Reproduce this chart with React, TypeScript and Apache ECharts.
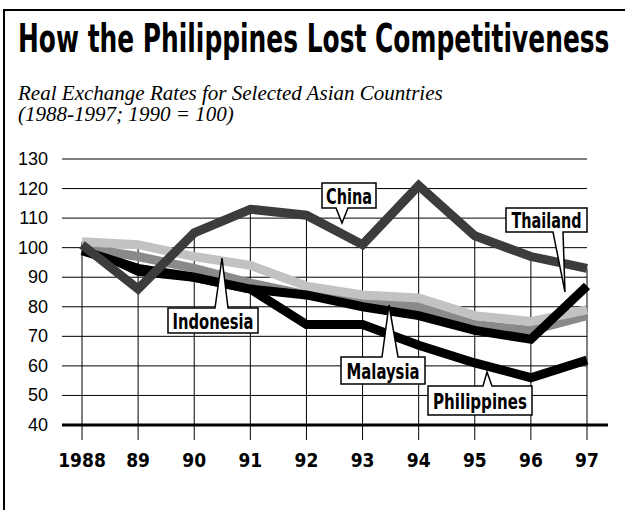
import React, { useEffect, useRef } from "react";
import * as echarts from "echarts";

const years = ["1988", "89", "90", "91", "92", "93", "94", "95", "96", "97"];
const yTicks = [40, 50, 60, 70, 80, 90, 100, 110, 120, 130];
const china = [101, 86, 105, 113, 111, 101, 121, 104, 97, 93];
const indonesia = [102, 101, 97, 94, 87, 84, 83, 77, 75, 79];
const malaysia = [100, 97, 93, 88, 84, 82, 80, 74, 72, 77];
const thailand = [99, 93, 90, 86, 84, 80, 77, 72, 69, 87];
const philippines = [101, 92, 90, 86, 74, 74, 67, 61, 56, 62];

const titleText = "How the Philippines Lost Competitiveness";
const subtitleLines = [
  "Real Exchange Rates for Selected Asian Countries",
  "(1988-1997; 1990 = 100)",
];

// callout annotations: box [x, y, w, h], target text width, tail base x pair, tip point
const callouts = [
  { text: "China", box: [322, 183, 54, 25], tw: 46, tail: [336, 348], tip: [342, 223] },
  { text: "Thailand", box: [506, 208, 81, 24], tw: 70, tail: [553, 563], tip: [565, 292] },
  { text: "Indonesia", box: [168, 308, 90, 25], tw: 81, tail: [215, 228], tip: [222, 258] },
  { text: "Malaysia", box: [341, 357, 84, 27], tw: 73, tail: [382, 398], tip: [389, 305] },
  { text: "Philippines", box: [428, 386, 104, 29], tw: 94, tail: [483, 492], tip: [487, 372] },
];

const NARROW = '"Liberation Sans Narrow", "DejaVu Sans Condensed", "Liberation Sans", sans-serif';
const SERIF = '"Liberation Serif", "DejaVu Serif", serif';

function measure(text: string, font: string): number {
  const c = document.createElement("canvas");
  const ctx = c.getContext("2d");
  if (!ctx) return 0;
  ctx.font = font;
  return ctx.measureText(text).width;
}

export default function App() {
  const ref = useRef<HTMLDivElement>(null);

  useEffect(() => {
    if (!ref.current) return;
    const chart = echarts.init(ref.current, null, { renderer: "svg" });

    const maxes = years.map((_, i) =>
      Math.max(china[i], indonesia[i], malaysia[i], thailand[i], philippines[i])
    );

    const titleFont = `bold 39px ${NARROW}`;
    const titleW = measure(titleText, titleFont) || 592;
    const titleScale = 592 / titleW;

    const subFont = `italic 22px ${SERIF}`;
    const subW = measure(subtitleLines[0], subFont) || 425;
    const subScale = 425 / subW;

    const lineSeries = (name: string, data: number[], color: string, z: number) => ({
      name,
      type: "line",
      data,
      symbol: "none",
      silent: true,
      clip: false,
      z,
      lineStyle: { color, width: 9, cap: "butt", join: "miter" },
    });

    const graphics: any[] = [
      {
        type: "polyline",
        shape: { points: [[4, 510], [4, 10], [625, 10]] },
        style: { stroke: "#000", lineWidth: 2, fill: "none" },
        z: 100,
      },
      {
        type: "text",
        x: 18,
        y: 39,
        scaleX: titleScale,
        style: {
          text: titleText,
          font: titleFont,
          fill: "#000",
          align: "left",
          verticalAlign: "middle",
        },
        z: 100,
      },
      ...subtitleLines.map((t, i) => ({
        type: "text",
        x: 18,
        y: 93 + i * 20.5,
        scaleX: subScale,
        style: {
          text: t,
          font: subFont,
          fill: "#000",
          align: "left",
          verticalAlign: "middle",
        },
        z: 100,
      })),
    ];

    const labelFont = `bold 22px ${NARROW}`;
    callouts.forEach((c) => {
      const [bx, by, bw, bh] = c.box;
      const [t1, t2] = c.tail;
      const [tx, ty] = c.tip;
      let pts: number[][];
      if (ty > by + bh) {
        pts = [[bx, by], [bx + bw, by], [bx + bw, by + bh], [t2, by + bh], [tx, ty], [t1, by + bh], [bx, by + bh]];
      } else {
        pts = [[bx, by], [t1, by], [tx, ty], [t2, by], [bx + bw, by], [bx + bw, by + bh], [bx, by + bh]];
      }
      graphics.push({
        type: "polygon",
        shape: { points: pts },
        style: { fill: "#fff", stroke: "#000", lineWidth: 1.5 },
        z: 200,
      });
      const w = measure(c.text, labelFont) || c.tw;
      graphics.push({
        type: "text",
        x: bx + bw / 2,
        y: by + bh / 2 + 1,
        scaleX: c.tw / w,
        style: {
          text: c.text,
          font: labelFont,
          fill: "#000",
          align: "center",
          verticalAlign: "middle",
        },
        z: 201,
      });
    });

    chart.setOption({
      animation: false,
      backgroundColor: "#fff",
      grid: { left: 82, right: 38, top: 159, bottom: 85, containLabel: false },
      xAxis: {
        type: "category",
        data: years,
        boundaryGap: false,
        axisLine: { show: false },
        axisTick: { show: false },
        splitLine: { show: false },
        axisLabel: {
          interval: 0,
          margin: 25,
          color: "#000",
          fontFamily: NARROW,
          fontWeight: "bold",
          fontSize: 19,
        },
      },
      yAxis: {
        type: "value",
        min: 40,
        max: 130,
        interval: 10,
        axisLine: { show: false },
        axisTick: { show: false },
        splitLine: { show: false },
        axisLabel: {
          margin: 34,
          color: "#000",
          fontFamily: '"Liberation Sans", sans-serif',
          fontSize: 18,
        },
      },
      series: [
        {
          type: "custom",
          silent: true,
          z: 1,
          clip: false,
          data: yTicks.map((v) => [0, v]),
          renderItem: (params: any, api: any) => {
            const v = api.value(1);
            const p = api.coord([0, v]);
            const cs = params.coordSys;
            const base = v === yTicks[0];
            return {
              type: "line",
              shape: {
                x1: cs.x - 20,
                y1: p[1],
                x2: cs.x + cs.width + (base ? 21 : 0),
                y2: p[1],
              },
              style: { stroke: "#000", lineWidth: base ? 3 : 1 },
            };
          },
        },
        {
          type: "custom",
          silent: true,
          z: 1,
          clip: false,
          data: maxes.map((m, i) => [i, m]),
          renderItem: (params: any, api: any) => {
            const top = api.coord([api.value(0), api.value(1)]);
            const bot = api.coord([api.value(0), yTicks[0]]);
            return {
              type: "line",
              shape: { x1: top[0], y1: top[1], x2: bot[0], y2: bot[1] + 15 },
              style: { stroke: "#000", lineWidth: 1 },
            };
          },
        },
        lineSeries("Philippines", philippines, "#000000", 3),
        lineSeries("Malaysia", malaysia, "#8a8a8a", 4),
        lineSeries("Indonesia", indonesia, "#c2c2c2", 5),
        lineSeries("Thailand", thailand, "#000000", 6),
        lineSeries("China", china, "#3c3c3c", 7),
      ],
      graphic: graphics,
    });

    return () => {
      chart.dispose();
    };
  }, []);

  return (
    <div
      ref={ref}
      style={{ position: "absolute", left: 0, top: 0, width: 625, height: 510, background: "#fff" }}
    />
  );
}
